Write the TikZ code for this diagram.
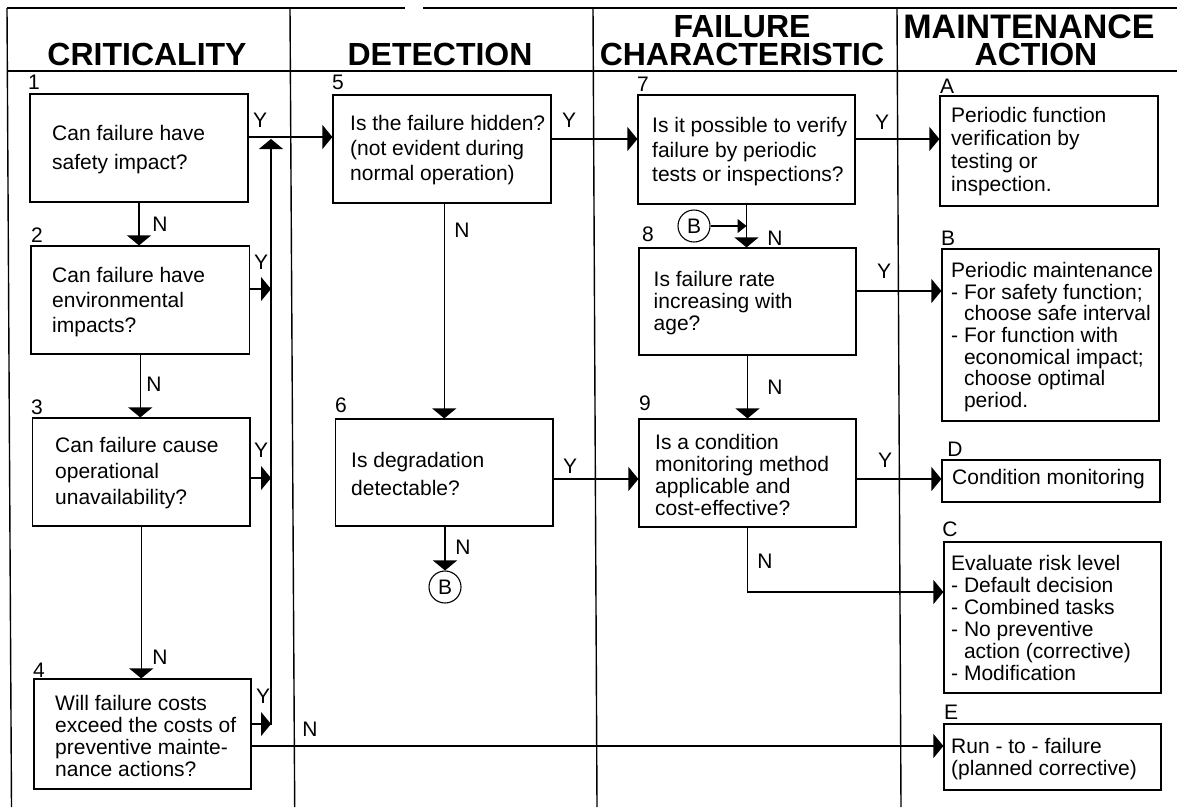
\documentclass[tikz,border=0pt]{standalone}
\usepackage{fontspec}
\setmainfont{Liberation Sans}
\usetikzlibrary{arrows.meta,calc}

\begin{document}
\begin{tikzpicture}[x=1pt,y=-1pt,
  box/.style={draw,line width=1.2pt,inner sep=0pt},
  txt/.style={anchor=west,align=left,inner sep=0pt,font=\fontsize{21}{#1}\selectfont},
  txt/.default=22,
  lbl/.style={inner sep=0pt,font=\fontsize{21}{24}\selectfont},
  head/.style={inner sep=0pt,font=\fontsize{32}{28}\bfseries\selectfont},
  flow/.style={line width=1.2pt,-{Triangle[length=10pt,width=24pt]}},
  frame/.style={line width=1.4pt},
  conn/.style={draw,circle,line width=1.1pt,minimum size=32pt,inner sep=0pt,font=\fontsize{21}{24}\selectfont}]
  \useasboundingbox (0,0) rectangle (1177,807);
  % frame and columns
  \draw[frame] (7,8) -- (405,8) (423,8) -- (1177,8);
  \draw[frame] (7,71) -- (1177,71);
  \draw[frame] (7,8) -- (11.5,807);
  \draw[frame] (290,8) -- (294.7,807);
  \draw[frame] (593,8) -- (597,807);
  \draw[frame] (897,8) -- (901,807);
  \node[head] (hcrit) at (147,54) {CRITICALITY};
  \node[head] (hdet) at (440,54) {DETECTION};
  \node[head] (hfail) at (742,27) {FAILURE};
  \node[head] (hchar) at (742,54) {CHARACTERISTIC};
  \node[head,font=\fontsize{34}{28}\bfseries\selectfont] (hmain) at (1029,27) {MAINTENANCE};
  \node[head] (hact) at (1036,54) {ACTION};

  % boxes
  \node[box,minimum width=218pt,minimum height=108pt] (q1) at (139,148) {};
  \node[box,minimum width=218.5pt,minimum height=108pt] (q2) at (140.25,300) {};
  \node[box,minimum width=217.5pt,minimum height=108pt] (q3) at (141.25,472) {};
  \node[box,minimum width=217pt,minimum height=110pt] (q4) at (142.5,734) {};
  \node[box,minimum width=218pt,minimum height=108pt] (q5) at (442,149) {};
  \node[box,minimum width=217.5pt,minimum height=107pt] (q6) at (444.25,472.5) {};
  \node[box,minimum width=217pt,minimum height=109pt] (q7) at (746.5,149.5) {};
  \node[box,minimum width=217pt,minimum height=107pt] (q8) at (747.5,301.5) {};
  \node[box,minimum width=217pt,minimum height=108pt] (q9) at (747.5,473) {};
  \node[box,minimum width=218pt,minimum height=110pt] (qA) at (1049,151) {};
  \node[box,minimum width=217pt,minimum height=172pt] (qB) at (1050.5,335) {};
  \node[box,minimum width=218pt,minimum height=42pt] (qD) at (1051,481) {};
  \node[box,minimum width=217pt,minimum height=151pt] (qC) at (1052.5,617.5) {};
  \node[box,minimum width=217pt,minimum height=66pt] (qE) at (1052.5,757) {};

  \node[txt=29] (t1) at (52,150) {Can failure have\\safety impact?};
  \node[txt=25] (t2) at (52,302) {Can failure have\\environmental\\impacts?};
  \node[txt=26] (t3) at (55,473.5) {Can failure cause\\operational\\unavailability?};
  \node[txt] (t4) at (55,736) {Will failure costs\\exceed the costs of\\preventive mainte-\\nance actions?};
  \node[txt=25] (t5) at (350,150) {Is the failure hidden?\\(not evident during\\normal operation)};
  \node[txt=28] (t6) at (351,474) {Is degradation\\detectable?};
  \node[txt=24.5] (t7) at (652,152) {Is it possible to verify\\failure by periodic\\tests or inspections?};
  \node[txt] (t8) at (653.5,303.5) {Is failure rate\\increasing with\\age?};
  \node[txt] (t9) at (655,474.5) {Is a condition\\monitoring method\\applicable and\\cost-effective?};
  \node[txt=23] (tA) at (951,152) {Periodic function\\verification by\\testing or\\inspection.};
  \node[txt=21.6] (tB) at (951,337) {Periodic maintenance\\- For safety function;\\\hphantom{- }choose safe interval\\- For function with\\\hphantom{- }economical impact;\\\hphantom{- }choose optimal\\\hphantom{- }period.};
  \node[txt] (tD) at (952,479) {Condition monitoring};
  \node[txt] (tC) at (951,618) {Evaluate risk level\\- Default decision\\- Combined tasks\\- No preventive\\\hphantom{- }action (corrective)\\- Modification};
  \node[txt] (tE) at (951,759) {Run - to - failure\\(planned corrective)};

  % step numbers
  \node[lbl] (n1) at (34,82) {1};
  \node[lbl] (n2) at (37,235) {2};
  \node[lbl] (n3) at (37,407) {3};
  \node[lbl] (n4) at (39,670) {4};
  \node[lbl] (n5) at (338,82) {5};
  \node[lbl] (n6) at (341,405) {6};
  \node[lbl] (n7) at (643,84) {7};
  \node[lbl] (n8) at (648,234) {8};
  \node[lbl] (n9) at (645,403) {9};
  \node[lbl] (nA) at (947,86) {A};
  \node[lbl] (nB) at (948,238) {B};
  \node[lbl] (nD) at (955,449) {D};
  \node[lbl] (nC) at (950,529) {C};
  \node[lbl] (nE) at (951,712) {E};

  \node[conn] (b1) at (445,587) {B};
  \node[conn] (b2) at (694,226) {B};
  \coordinate (bustop) at (271,137);
  \coordinate (busbot) at (271,725);

  % yes branches
  \draw[flow] (q1.east |- bustop) -- (q5.west |- bustop);
  \draw[flow] (busbot) -- ($(bustop)+(0,2)$);
  \draw[flow] (q2.east |- 0,289) -- (bustop |- 0,289);
  \draw[flow] (q3.east |- 0,478) -- (bustop |- 0,478);
  \draw[flow] (q4.east |- 0,724) -- (busbot |- 0,724);
  \draw[flow] (q5.east |- 0,139) -- (q7.west |- 0,139);
  \draw[flow] (q7.east |- 0,139) -- (qA.west |- 0,139);
  \draw[flow] (q8.east |- 0,291) -- (qB.west |- 0,291);
  \draw[flow] (q6.east |- 0,479) -- (q9.west |- 0,479);
  \draw[flow] (q9.east |- 0,479) -- (qD.west |- 0,479);
  % no branches
  \draw[flow] (q1.south) -- (q1.south |- q2.north);
  \draw[flow] (q2.south) -- (q2.south |- q3.north);
  \draw[flow] (q3.south) -- (q3.south |- q4.north);
  \draw[flow] (q6.north |- q5.south) -- (q6.north);
  \draw[flow] (b1.north |- q6.south) -- (b1.north);
  \draw[flow] (q7.south) -- (q7.south |- q8.north);
  \draw[line width=1.2pt,-{Triangle[length=9pt,width=14pt]}] (b2.east) -- (q7.south |- b2.east);
  \draw[flow] (q8.south) -- (q8.south |- q9.north);
  \draw[flow] (q9.south) |- (qC.west |- 0,592);
  \draw[flow] (q4.east |- 0,746) -- (qE.west |- 0,746);

  \foreach \p/\t in {{260,120}/Y, {569,120}/Y, {882,122}/Y, {261,262}/Y, {261,450}/Y,
      {263,696}/Y, {884,271}/Y, {885,460}/Y, {570,466}/Y,
      {160,224}/N, {462,230}/N, {154,384}/N, {160,657}/N, {310,729}/N,
      {775,238}/N, {775,387}/N, {765,561}/N, {463,547}/N}
    \node[lbl] at (\p) {\t};
\end{tikzpicture}
\end{document}
